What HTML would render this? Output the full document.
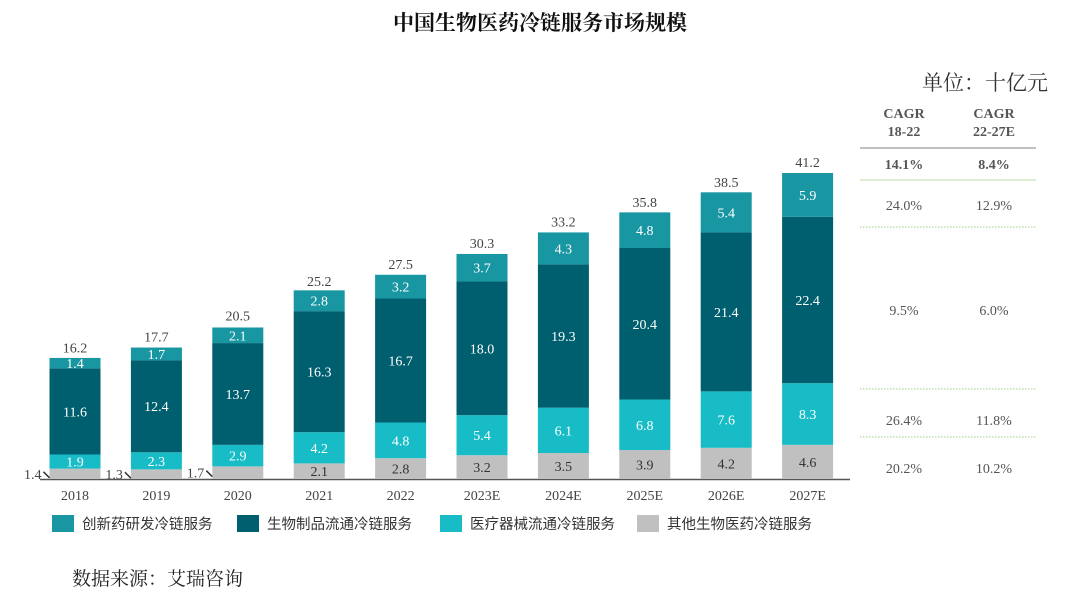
<!DOCTYPE html>
<html><head><meta charset="utf-8"><style>
body{margin:0;background:#fff;width:1080px;height:610px;overflow:hidden;font-family:"Liberation Serif","Noto Serif CJK SC",serif}
</style></head><body>
<svg id="c" width="1080" height="610" xmlns="http://www.w3.org/2000/svg">
<text x="540" y="30" text-anchor="middle" font-size="21" font-weight="bold" fill="#111" font-family="Noto Serif CJK SC, serif">中国生物医药冷链服务市场规模</text>
<text x="1048" y="90" text-anchor="end" font-size="21" fill="#333" font-family="Noto Serif CJK SC, serif">单位：十亿元</text>
<text x="72" y="585" font-size="19" fill="#222" font-family="Noto Serif CJK SC, serif">数据来源：艾瑞咨询</text>
<g id="bars"></g>
<g id="tbl"></g>
<g id="leg"></g>
</svg>
<script>
const categories=["2018","2019","2020","2021","2022","2023E","2024E","2025E","2026E","2027E"];
const otherVals=[1.4,1.3,1.7,2.1,2.8,3.2,3.5,3.9,4.2,4.6];
const deviceVals=[1.9,2.3,2.9,4.2,4.8,5.4,6.1,6.8,7.6,8.3];
const bioVals=[11.6,12.4,13.7,16.3,16.7,18.0,19.3,20.4,21.4,22.4];
const drugVals=[1.4,1.7,2.1,2.8,3.2,3.7,4.3,4.8,5.4,5.9];
const totals=[16.2,17.7,20.5,25.2,27.5,30.3,33.2,35.8,38.5,41.2];
const seriesNames=["创新药研发冷链服务","生物制品流通冷链服务","医疗器械流通冷链服务","其他生物医药冷链服务"];
const cagr1=["14.1%","24.0%","9.5%","26.4%","20.2%"];
const cagr2=["8.4%","12.9%","6.0%","11.8%","10.2%"];
const NS="http://www.w3.org/2000/svg";
const base=479,k=306/41.2;
const y=v=>base-v*k;
const xc=i=>75+i*81.4;
const bw=51;
function mk(t,a,p){const e=document.createElementNS(NS,t);for(const q in a)e.setAttribute(q,a[q]);p.appendChild(e);return e;}
const g=document.getElementById('bars');
const ax=mk('line',{x1:40,x2:850,y1:base+0.5,y2:base+0.5,stroke:'#555','stroke-width':1.5},g);


const cols=['#c0c0c0','#17bcc6','#005f6e','#1896a2'];
const sers=[otherVals,deviceVals,bioVals,drugVals];
const snames=['other','device','bio','drug'];
categories.forEach((c,i)=>{
  let cum=0;
  sers.forEach((s,j)=>{
    const v=s[i];
    const r=mk('rect',{x:xc(i)-bw/2,y:y(cum+v),width:bw,height:v*k,fill:cols[j]},g);
    
    
    const small=(j==0&&i<3);
    const t=mk('text',{x:small?xc(i)-bw/2-8:xc(i),y:y(cum+v/2)+5,'text-anchor':small?'end':'middle','font-size':14,fill:small?'#444':(j==0?'#333':'#fff')},g);
    t.textContent=v.toFixed(1);
    
    
    if(small){mk('line',{x1:xc(i)-bw/2-6,y1:y(cum+v/2)-2,x2:xc(i)-bw/2,y2:y(cum+v/2)+4,stroke:'#333','stroke-width':1.5},g);}
    cum+=v;
  });
  const tt=mk('text',{x:xc(i),y:y(totals[i])-6,'text-anchor':'middle','font-size':14,fill:'#444'},g);
  tt.textContent=totals[i].toFixed(1);
  
  
  const xl=mk('text',{x:xc(i),y:500,'text-anchor':'middle','font-size':14,fill:'#444'},g);
  xl.textContent=c;
  
  
});
const tb=document.getElementById('tbl');
[["CAGR",904,118],["18-22",904,136],["CAGR",994,118],["22-27E",994,136]].forEach(a=>{const t=mk('text',{x:a[1],y:a[2],'text-anchor':'middle','font-size':14,'font-weight':'bold',fill:'#555'},tb);t.textContent=a[0];});
mk('line',{x1:860,x2:1036,y1:148,y2:148,stroke:'#aaa','stroke-width':1.5},tb);
mk('line',{x1:860,x2:1036,y1:180,y2:180,stroke:'#b8dca8','stroke-width':1},tb);
[227,389,437].forEach(yy=>mk('line',{x1:860,x2:1036,y1:yy,y2:yy,stroke:'#9ccf8a','stroke-width':1,'stroke-dasharray':'1.5 1.5'},tb));
const rowY=[169,210,315,425,473];
cagr1.forEach((v,i)=>{
  const a=mk('text',{x:904,y:rowY[i],'text-anchor':'middle','font-size':14,fill:'#555','font-weight':i==0?'bold':'normal'},tb);a.textContent=v;
  
  
  const b=mk('text',{x:994,y:rowY[i],'text-anchor':'middle','font-size':14,fill:'#555','font-weight':i==0?'bold':'normal'},tb);b.textContent=cagr2[i];
  
  
});
const lg=document.getElementById('leg');
const lx=[52,237,440,637];const lc=['#1896a2','#005f6e','#17bcc6','#c0c0c0'];
seriesNames.forEach((n,i)=>{
  const r=mk('rect',{x:lx[i],y:515,width:22,height:17,fill:lc[i]},lg);
  
  
  const t=mk('text',{x:lx[i]+30,y:529,'font-size':14.5,fill:'#333','font-family':'Noto Sans CJK SC, sans-serif'},lg);
  t.textContent=n;
  
  
});
</script>
</body></html>
